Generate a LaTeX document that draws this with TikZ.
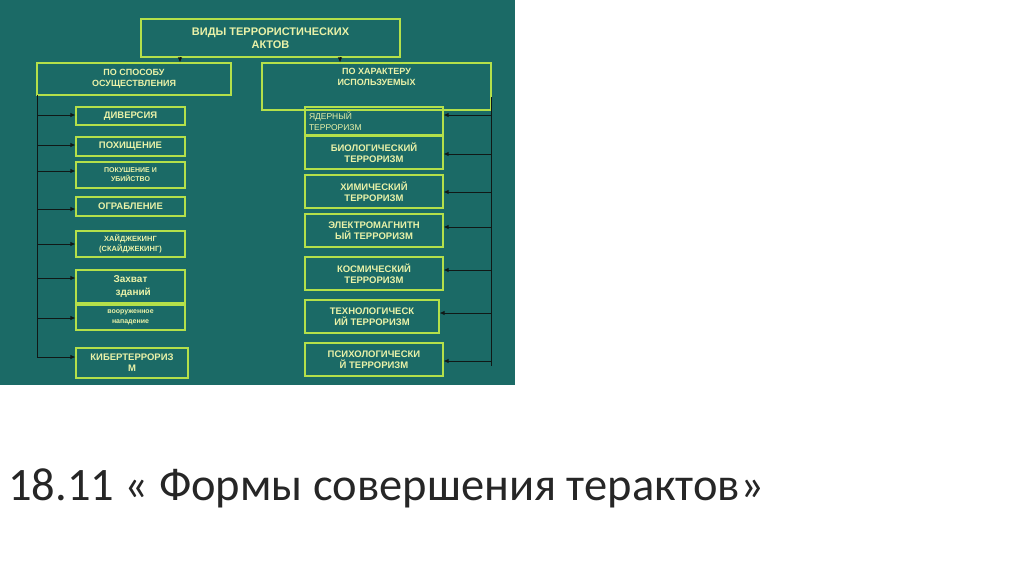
\documentclass[tikz,border=0pt]{standalone}
\usepackage{fontspec}
\usetikzlibrary{arrows.meta}
\setmainfont{Liberation Sans}
\newfontfamily\capfont{Carlito}
\definecolor{bg}{HTML}{1B6A66}
\definecolor{bd}{HTML}{B4E04A}
\definecolor{tx}{HTML}{EAF2A8}
\definecolor{ln}{HTML}{101816}
\begin{document}
\begin{tikzpicture}[x=1pt,y=-1pt,
 bx/.style={draw=bd,line width=1.1pt,text=tx,font=\bfseries\fontsize{9.5}{11}\selectfont,align=center,inner sep=1pt},
 arr/.style={draw=ln,line width=0.9pt,-{Latex[length=5pt,width=4.5pt]}},
 ln/.style={draw=ln,line width=0.9pt}]
\useasboundingbox (0,0) rectangle (1024,574);
\fill[white] (0,0) rectangle (1024,574);
\fill[bg] (0,0) rectangle (515,385);
\node[bx,minimum width=259pt,minimum height=38pt,font=\bfseries\fontsize{11}{13}\selectfont] (t) at (270.5,38) {ВИДЫ ТЕРРОРИСТИЧЕСКИХ\\АКТОВ};
\node[bx,minimum width=194pt,minimum height=32pt,font=\bfseries\fontsize{9}{11}\selectfont] (lh) at (134,79) {ПО СПОСОБУ\\ОСУЩЕСТВЛЕНИЯ};
\node[bx,minimum width=229pt,minimum height=47pt,text depth=20pt,font=\bfseries\fontsize{9}{11}\selectfont] (rh) at (376.5,86.5) {ПО ХАРАКТЕРУ\\ИСПОЛЬЗУЕМЫХ};
\coordinate (ta) at (180,57); \coordinate (tb) at (340,57);
\draw[arr] (ta) -- (ta |- lh.north);
\draw[arr] (tb) -- (tb |- rh.north);
% left boxes
\node[bx,minimum width=109pt,minimum height=18pt] (d1) at (130.5,116) {ДИВЕРСИЯ};
\node[bx,minimum width=109pt,minimum height=19pt] (d2) at (130.5,146.5) {ПОХИЩЕНИЕ};
\node[bx,minimum width=109pt,minimum height=26pt,font=\bfseries\fontsize{7}{9}\selectfont] (d3) at (130.5,175) {ПОКУШЕНИЕ И\\УБИЙСТВО};
\node[bx,minimum width=109pt,minimum height=19pt] (d4) at (130.5,206.5) {ОГРАБЛЕНИЕ};
\node[bx,minimum width=109pt,minimum height=26pt,font=\bfseries\fontsize{7.5}{9.5}\selectfont] (d5) at (130.5,244) {ХАЙДЖЕКИНГ\\(СКАЙДЖЕКИНГ)};
\node[bx,minimum width=109pt,minimum height=33pt,font=\bfseries\fontsize{10}{13}\selectfont] (d6) at (130.5,286.5) {Захват\\\ \ зданий};
\node[bx,minimum width=109pt,minimum height=25pt,font=\bfseries\fontsize{7}{9.5}\selectfont] (d7) at (130.5,317.5) {вооруженное\\нападение};
\node[bx,minimum width=112pt,minimum height=30pt] (d8) at (132,363) {КИБЕРТЕРРОРИЗ\\М};
\coordinate (ltop) at (37,95); \coordinate (lbot) at (37,357);
\draw[ln] (ltop) -- (lbot);
\foreach \n/\y in {d1/115,d2/145,d3/171,d4/209,d5/244,d6/278,d7/318,d8/357}{
 \coordinate (a\n) at (37,\y);
 \draw[arr] (a\n) -- (a\n -| \n.west);}
% right boxes
\node[bx,minimum width=138pt,minimum height=28pt,align=left,text width=130pt,font=\fontsize{8.5}{11}\selectfont] (r1) at (374,121) {ЯДЕРНЫЙ\\ТЕРРОРИЗМ};
\node[bx,minimum width=138pt,minimum height=33pt] (r2) at (374,152.5) {БИОЛОГИЧЕСКИЙ\\ТЕРРОРИЗМ};
\node[bx,minimum width=138pt,minimum height=33pt] (r3) at (374,191.5) {ХИМИЧЕСКИЙ\\ТЕРРОРИЗМ};
\node[bx,minimum width=138pt,minimum height=33pt] (r4) at (374,230.5) {ЭЛЕКТРОМАГНИТН\\ЫЙ ТЕРРОРИЗМ};
\node[bx,minimum width=138pt,minimum height=33pt] (r5) at (374,273.5) {КОСМИЧЕСКИЙ\\ТЕРРОРИЗМ};
\node[bx,minimum width=134pt,minimum height=33pt] (r6) at (372,316.5) {ТЕХНОЛОГИЧЕСК\\ИЙ ТЕРРОРИЗМ};
\node[bx,minimum width=138pt,minimum height=33pt] (r7) at (374,359.5) {ПСИХОЛОГИЧЕСКИ\\Й ТЕРРОРИЗМ};
\coordinate (rtop) at (491,97); \coordinate (rbot) at (491,366);
\draw[ln] (rtop) -- (rbot);
\foreach \n/\y in {r1/115,r2/154,r3/192,r4/227,r5/270,r6/313,r7/361}{
 \coordinate (b\n) at (491,\y);
 \draw[arr] (b\n) -- (b\n -| \n.east);}
\node[anchor=base west,inner sep=0pt,font=\capfont\fontsize{46.5}{52}\selectfont,text=black!85] (cap) at (8,500) {18.11 « Формы совершения терактов»};
\end{tikzpicture}
\end{document}
